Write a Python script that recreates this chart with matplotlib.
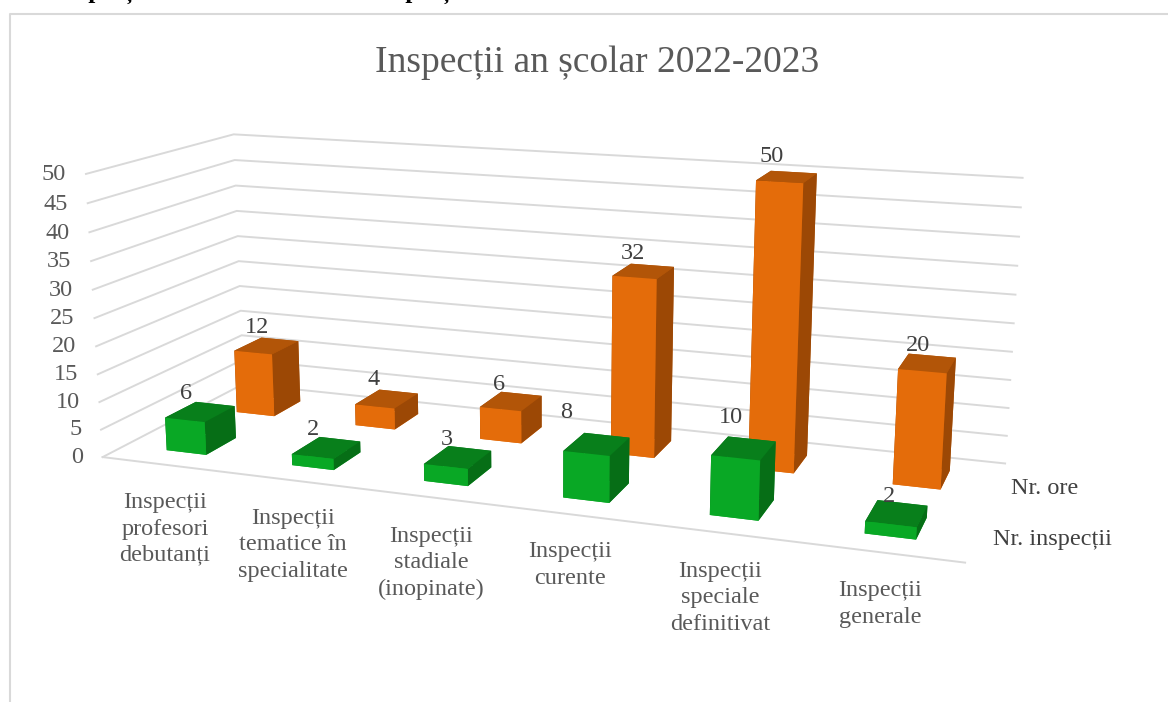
import matplotlib
matplotlib.use("Agg")
import matplotlib.pyplot as plt
from matplotlib.lines import Line2D
from mpl_toolkits.mplot3d import proj3d

W, H = 1168, 702

categories = ["Inspecții\nprofesori\ndebutanți", "Inspecții\ntematice în\nspecialitate",
              "Inspecții\nstadiale\n(inopinate)", "Inspecții\ncurente",
              "Inspecții\nspeciale\ndefinitivat", "Inspecții\ngenerale"]
nr_inspectii = [6, 2, 3, 8, 10, 2]
nr_ore = [12, 4, 6, 32, 50, 20]
z_ticks = [0, 5, 10, 15, 20, 25, 30, 35, 40, 45, 50]

# label centres in pixels of the reference
cat_pos = [(165, 529), (293, 545), (431, 563), (570, 565), (720, 598), (880, 604)]
# nudges of the value labels, pixels, excel puts them a bit off the bars
insp_off = [(-21, -4), (-20, -4), (-17, -3), (-35, -17), (-17, -16), (-10, -1)]
ore_off = [(-16, -5), (-19, -5), (-17, -3), (-15, -4), (-18, -8), (-12, -4)]

# camera found with a least squares search on the wall corners
ELEV, AZIM, ROLL, FOCAL = 13.756, -70.187, -0.054, 0.3701
BOX = (2.9756, 1.0062, 1)
S, TX, TY = 5063.04, 551.92, 381.30

BAR_W = 0.32
BAR_D = 0.42

GREEN = ("#09A825", "#087F1B", "#066E16")
ORANGE = ("#E46C0A", "#B25508", "#9C4805")
GRID = "#D9D9D9"
TEXT = "#595959"
DARK = "#404040"
FS = 17.5

plt.rcParams["font.family"] = ["Liberation Serif", "DejaVu Serif"]

fig = plt.figure(figsize=(W / 100, H / 100), dpi=100)
ax = fig.add_axes([0, 0, 1, 1], projection="3d", computed_zorder=False)
ax.set_xlim(0, 6)
ax.set_ylim(0, 2)
ax.set_zlim(0, 50)
ax.view_init(ELEV, AZIM, ROLL)
ax.set_proj_type("persp", focal_length=FOCAL)
ax.set_box_aspect(BOX)
ax.set_axis_off()

# put the axes so the 2d view limits land where the fit wants them
x0, x1 = ax.viewLim.intervalx
y0, y1 = ax.viewLim.intervaly
ax.set_position([(TX + S * x0) / W, (TY + S * y0) / H, S * (x1 - x0) / W, S * (y1 - y0) / H])
ax.patch.set_alpha(0)
M = ax.get_proj()


def label3d(x, y, z, s, dx=0, dy=0, **kw):
    # text goes on the figure at the projected spot, dy in pixels going down
    xs, ys, _ = proj3d.proj_transform(x, y, z, M)
    fig.text((S * xs + TX + dx) / W, (S * ys + TY - dy) / H, s, fontsize=FS, **kw)


def bar(i, row, value, cols, order):
    front, top, side = cols
    # bar3d faces: bottom, top, front, back, left, right
    faces = [front, top, front, top, side, side]
    ax.bar3d(i + 0.5 - BAR_W / 2, row + 0.5 - BAR_D / 2, 0, BAR_W, BAR_D, value,
             color=faces, shade=False, linewidth=0, zorder=order)


# walls and floor lines
for z in z_ticks:
    ax.plot([0, 0, 6], [0, 2, 2], [z, z, z], color=GRID, lw=1.4, zorder=1, clip_on=False)
    label3d(-0.12, 0, z, str(z), dx=-5, dy=2, ha="right", va="center", color=TEXT)
ax.plot([0, 6], [0, 0], [0, 0], color=GRID, lw=1.4, zorder=1, clip_on=False)

for i, v in enumerate(nr_ore):
    bar(i, 1, v, ORANGE, 10 + i)
for i, v in enumerate(nr_inspectii):
    bar(i, 0, v, GREEN, 20 + i)

for i, v in enumerate(nr_ore):
    label3d(i + 0.5, 1.6, v, str(v), dx=ore_off[i][0], dy=ore_off[i][1], ha="center", va="bottom", color=DARK)
for i, v in enumerate(nr_inspectii):
    label3d(i + 0.5, 0.6, v, str(v), dx=insp_off[i][0], dy=insp_off[i][1], ha="center", va="bottom", color=DARK)

for name, (px, py) in zip(categories, cat_pos):
    fig.text(px / W, 1 - py / H, name, ha="center", va="center", fontsize=FS,
             color=TEXT, linespacing=1.33)

fig.text(1045 / W, 1 - 488 / H, "Nr. ore", ha="center", va="center", fontsize=FS, color=DARK)
fig.text(1052 / W, 1 - 540 / H, "Nr. inspecții", ha="center", va="center", fontsize=FS, color=DARK)

fig.text(597 / W, 1 - 63 / H, "Inspecții an școlar 2022-2023", ha="center", va="center",
         fontsize=27, color=TEXT)

# chart frame, and the heading above it that the crop cuts off
fig.add_artist(Line2D([10 / W, 10 / W, 1], [0, 1 - 14 / H, 1 - 14 / H], color=GRID, lw=1.5))
fig.text(55 / W, 1 + 2 / H, "Inspecții", ha="left", va="baseline", fontsize=18, fontweight="bold", color="black")
fig.text(372 / W, 1 + 2 / H, "Inspecții", ha="left", va="baseline", fontsize=18, fontweight="bold", color="black")

fig.savefig("out.png", dpi=100)
